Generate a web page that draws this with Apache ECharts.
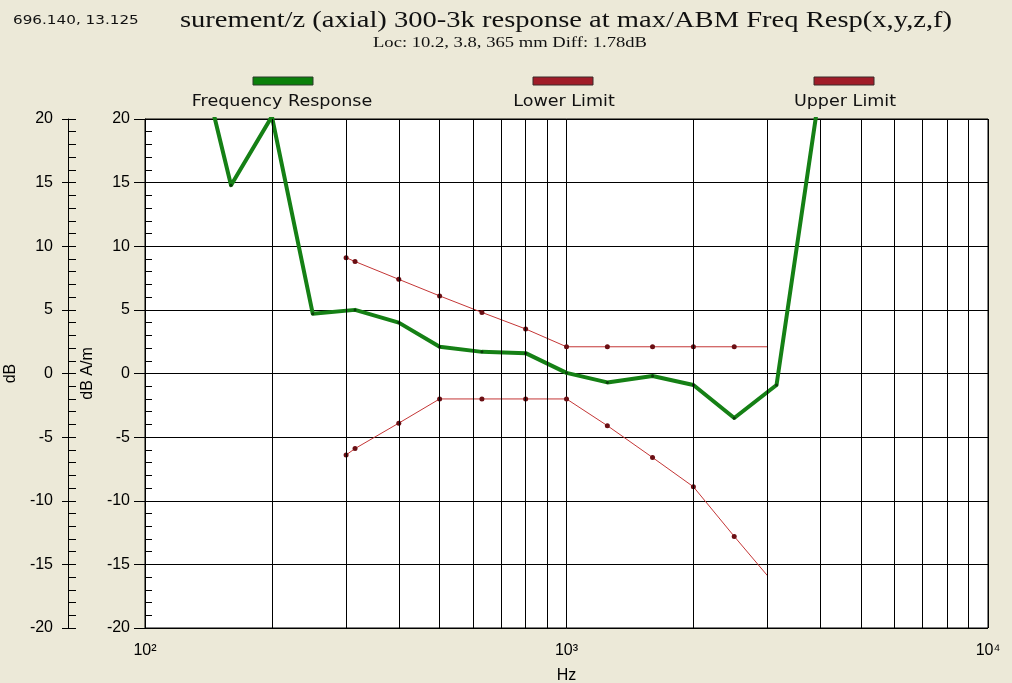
<!DOCTYPE html>
<html><head><meta charset="utf-8">
<script src="https://cdn.jsdelivr.net/npm/echarts@6/dist/echarts.min.js"></script>
<style>html,body{margin:0;padding:0;background:#ece9d8}#c{width:1012px;height:683px}</style>
</head><body><div id="c"></div>
<script>
// ---- data ----
const freqResponse = [[125,29.4],[160,14.8],[200,20.2],[250,4.7],[315,5.0],[400,4.0],[500,2.1],[630,1.7],[800,1.6],[1000,0.05],[1250,-0.7],[1600,-0.2],[2000,-0.9],[2500,-3.5],[3150,-0.9],[4000,22.5]];
const lowerLimit = [[300,-6.4],[315,-5.9],[400,-3.9],[500,-2.0],[630,-2.0],[800,-2.0],[1000,-2.0],[1250,-4.1],[1600,-6.6],[2000,-8.9],[2500,-12.8],[3000,-15.9]];
const upperLimit = [[300,9.1],[315,8.8],[400,7.4],[500,6.1],[630,4.8],[800,3.5],[1000,2.1],[1250,2.1],[1600,2.1],[2000,2.1],[2500,2.1],[3000,2.1]];
const minorFreqs = [200,300,400,500,600,700,800,900,2000,3000,4000,5000,6000,7000,8000,9000];
const xTickLabels = ['10²','10³','10⁴'];
const seriesNames = ['Frequency Response','Lower Limit','Upper Limit'];
const titleText = 'surement/z (axial) 300-3k response at max/ABM Freq Resp(x,y,z,f)';
const subtitleText = 'Loc: 10.2, 3.8, 365 mm Diff: 1.78dB';
const cursorText = '696.140, 13.125';

const BLACK = '#000';
const GREEN = '#158015';
const RED = '#c43636';
const RED_DARK = '#6b0f14';
const SANS = 'DejaVu Sans';
const ARIAL = 'Liberation Sans';
const SERIF = 'Liberation Serif';

function withLastNoSymbol(arr){
  return arr.map((p,i)=> i===arr.length-1 ? {value:p, symbol:'none'} : p);
}

const chart = echarts.init(document.getElementById('c'), null, {renderer:'canvas'});

const yBase = {type:'value', min:-20, max:20, interval:5, position:'left'};
const option = {
  backgroundColor:'#ece9d8',
  animation:false,
  grid:{left:145, right:24, top:119, bottom:55, show:true, backgroundColor:'#fff', borderColor:BLACK, borderWidth:1,
    containLabel:false, outerBoundsMode:'none'},
  xAxis:{
    type:'log', logBase:10, min:100, max:10000,
    axisLine:{show:true, lineStyle:{color:BLACK, width:1}},
    axisTick:{show:true, length:9, lineStyle:{color:BLACK}},
    axisLabel:{color:BLACK, fontFamily:ARIAL, fontSize:16, margin:15,
      formatter:(v)=>{const e=Math.round(Math.log10(v)); return xTickLabels[e-2]||'';}},
    splitLine:{show:true, lineStyle:{color:BLACK, width:1}},
    name:'Hz', nameLocation:'middle', nameGap:40,
    nameTextStyle:{color:BLACK, fontFamily:ARIAL, fontSize:16}
  },
  yAxis:[
    Object.assign({}, yBase, {offset:0,
      axisLine:{show:true, lineStyle:{color:BLACK}},
      axisTick:{show:true, length:11, lineStyle:{color:BLACK}},
      axisLabel:{color:BLACK, fontFamily:ARIAL, fontSize:16, margin:15},
      splitLine:{show:true, lineStyle:{color:BLACK, width:1}},
      name:'dB A/m', nameLocation:'middle', nameGap:43, nameRotate:90,
      nameTextStyle:{color:BLACK, fontFamily:ARIAL, fontSize:16}}),
    Object.assign({}, yBase, {offset:0,
      axisLine:{show:false},
      axisTick:{show:true, inside:true, length:7, lineStyle:{color:BLACK}},
      minorTick:{show:true, splitNumber:5, length:7, lineStyle:{color:BLACK}},
      axisLabel:{show:false}, splitLine:{show:false}}),
    Object.assign({}, yBase, {offset:77,
      axisLine:{show:true, lineStyle:{color:BLACK}},
      axisTick:{show:true, length:6, lineStyle:{color:BLACK}},
      axisLabel:{color:BLACK, fontFamily:ARIAL, fontSize:16, margin:15},
      splitLine:{show:false},
      name:'dB', nameLocation:'middle', nameGap:40, nameRotate:90,
      nameTextStyle:{color:BLACK, fontFamily:ARIAL, fontSize:16}}),
    Object.assign({}, yBase, {offset:77,
      axisLine:{show:false},
      axisTick:{show:true, inside:true, length:8, lineStyle:{color:BLACK}},
      minorTick:{show:true, splitNumber:5, length:8, lineStyle:{color:BLACK}},
      axisLabel:{show:false}, splitLine:{show:false}})
  ],
  series:[
    {type:'line', name:'grid', data:[], silent:true, yAxisIndex:0, z:1,
      markLine:{silent:true, symbol:['none','none'], label:{show:false}, animation:false,
        lineStyle:{color:BLACK, type:'solid', width:1},
        emphasis:{disabled:true},
        data: minorFreqs.map(f=>({xAxis:f}))}},
    {type:'line', name:seriesNames[2], data:withLastNoSymbol(upperLimit), yAxisIndex:0,
      symbol:'circle', symbolSize:5, itemStyle:{color:RED_DARK},
      lineStyle:{color:RED, width:1}, z:3},
    {type:'line', name:seriesNames[1], data:withLastNoSymbol(lowerLimit), yAxisIndex:0,
      symbol:'circle', symbolSize:5, itemStyle:{color:RED_DARK},
      lineStyle:{color:RED, width:1}, z:3},
    {type:'line', name:seriesNames[0], data:freqResponse, yAxisIndex:0, smooth:false,
      symbol:'circle', symbolSize:3, itemStyle:{color:'#0b3b0b'},
      lineStyle:{color:GREEN, width:4, join:'round', cap:'round'}, z:4}
  ],
  graphic:[
    {type:'text', x:13, y:21, scaleX:1.17, style:{text:cursorText, font:'13px "'+SANS+'"', fill:'#111', textAlign:'left', textVerticalAlign:'middle'}},
    {type:'text', x:566, y:21, scaleX:1.19, style:{text:titleText, font:'24px "'+SERIF+'"', fill:'#111', textAlign:'center', textVerticalAlign:'middle'}},
    {type:'text', x:510, y:43, scaleX:1.24, style:{text:subtitleText, font:'15px "'+SERIF+'"', fill:'#111', textAlign:'center', textVerticalAlign:'middle'}},
    {type:'rect', shape:{x:253, y:77, width:60, height:8}, style:{fill:'#0a800a', stroke:'#2a3a2a', lineWidth:1}},
    {type:'rect', shape:{x:533, y:77, width:60, height:8}, style:{fill:'#a01c28', stroke:'#3a2a2a', lineWidth:1}},
    {type:'rect', shape:{x:814, y:77, width:60, height:8}, style:{fill:'#a01c28', stroke:'#3a2a2a', lineWidth:1}},
    {type:'text', x:282, y:102, scaleX:1.17, style:{text:seriesNames[0], font:'15px "'+SANS+'"', fill:'#111', textAlign:'center', textVerticalAlign:'middle'}},
    {type:'text', x:564, y:102, scaleX:1.17, style:{text:seriesNames[1], font:'15px "'+SANS+'"', fill:'#111', textAlign:'center', textVerticalAlign:'middle'}},
    {type:'text', x:845, y:102, scaleX:1.17, style:{text:seriesNames[2], font:'15px "'+SANS+'"', fill:'#111', textAlign:'center', textVerticalAlign:'middle'}}
  ]
};
chart.setOption(option);
</script></body></html>
